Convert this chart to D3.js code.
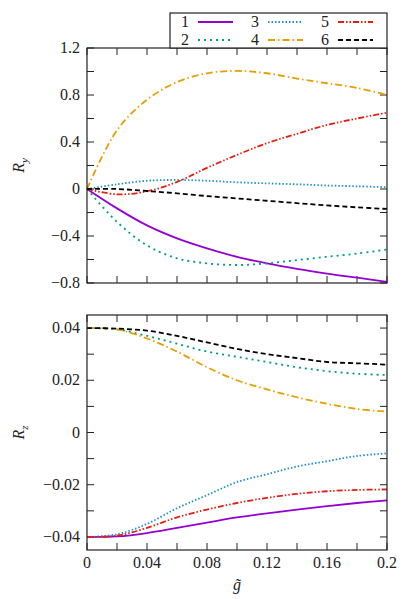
<!DOCTYPE html>
<html><head><meta charset="utf-8">
<script src="https://cdn.jsdelivr.net/npm/d3@7"></script>
<style>body{margin:0;background:#fff}svg text{font-family:'Liberation Serif','DejaVu Serif','Times New Roman',serif;font-size:16px;fill:#222}</style>
</head><body><svg id="c" width="407" height="599"></svg>
<script>
// data
const gx = [0,0.02,0.04,0.06,0.08,0.1,0.12,0.14,0.16,0.18,0.2];
const ry1 = [0,-0.165,-0.31,-0.42,-0.505,-0.577,-0.633,-0.68,-0.72,-0.755,-0.79];
const ry2 = [0,-0.28,-0.48,-0.59,-0.633,-0.647,-0.633,-0.605,-0.577,-0.55,-0.515];
const ry3 = [0,0.04,0.07,0.077,0.07,0.057,0.048,0.04,0.03,0.023,0.015];
const ry4 = [0,0.50,0.76,0.91,0.985,1.005,0.985,0.94,0.90,0.86,0.80];
const ry5 = [0,-0.045,-0.02,0.06,0.18,0.29,0.39,0.47,0.545,0.60,0.65];
const ry6 = [0,0,-0.017,-0.037,-0.06,-0.08,-0.1,-0.12,-0.14,-0.156,-0.17];
const rz1 = [-0.04,-0.0398,-0.0385,-0.0365,-0.0345,-0.0325,-0.031,-0.0295,-0.0282,-0.027,-0.026];
const rz2 = [0.04,0.0395,0.037,0.034,0.031,0.029,0.027,0.025,0.0235,0.0225,0.022];
const rz3 = [-0.04,-0.039,-0.035,-0.029,-0.024,-0.019,-0.016,-0.013,-0.011,-0.009,-0.008];
const rz4 = [0.04,0.0395,0.036,0.031,0.025,0.02,0.0165,0.0135,0.011,0.009,0.008];
const rz5 = [-0.04,-0.0395,-0.0365,-0.0325,-0.0295,-0.027,-0.025,-0.0235,-0.0225,-0.022,-0.0218];
const rz6 = [0.04,0.0398,0.039,0.037,0.0345,0.032,0.030,0.0285,0.027,0.0265,0.026];
const names = ["1","2","3","4","5","6"];
const xTickLabels = ["0","0.04","0.08","0.12","0.16","0.2"];
const ryTickLabels = ["−0.8","−0.4","0","0.4","0.8","1.2"];
const rzTickLabels = ["−0.04","−0.02","0","0.02","0.04"];

const colorsLine = ["#9400d3","#009e73","#1f8fd6","#e69f00","#e51e10","#000000"];
const dashes = [null,"2,4","1.5,2","7,3,1.5,3","6,2,1.5,2,1.5,2","5,3"];

const svg = d3.select("#c");
const L = 87, R = 387;
const x = d3.scaleLinear().domain([0,0.2]).range([L,R]);

function panel(top, bot, domain, series, minorStep, majorVals, majorLabels, title){
  const y = d3.scaleLinear().domain(domain).range([bot,top]);
  const g = svg.append("g");
  const line = d3.line().x((d,i)=>x(gx[i])).y(d=>y(d)).curve(d3.curveCatmullRom);
  // ticks, inward on all four sides
  const xt = d3.range(0,0.2001,0.02);
  const yt = d3.range(Math.ceil(domain[0]/minorStep-1e-6)*minorStep, domain[1]+1e-9, minorStep);
  xt.forEach(v=>{
    g.append("line").attr("x1",x(v)).attr("x2",x(v)).attr("y1",bot).attr("y2",bot-7).attr("stroke","#222");
    g.append("line").attr("x1",x(v)).attr("x2",x(v)).attr("y1",top).attr("y2",top+7).attr("stroke","#222");
  });
  yt.forEach(v=>{
    g.append("line").attr("x1",L).attr("x2",L+7).attr("y1",y(v)).attr("y2",y(v)).attr("stroke","#222");
    g.append("line").attr("x1",R).attr("x2",R-7).attr("y1",y(v)).attr("y2",y(v)).attr("stroke","#222");
  });
  majorVals.forEach((v,i)=>g.append("text").attr("x",L-7).attr("y",y(v)+5).attr("text-anchor","end").text(majorLabels[i]));
  series.forEach((s,i)=>g.append("path").attr("d",line(s)).attr("fill","none")
    .attr("stroke",colorsLine[i]).attr("stroke-width",1.8).attr("stroke-dasharray",dashes[i]));
  g.append("rect").attr("x",L).attr("y",top).attr("width",R-L).attr("height",bot-top)
    .attr("fill","none").attr("stroke","#222").attr("stroke-width",1.2);
  const t = g.append("text").attr("transform",`translate(24,${(top+bot)/2}) rotate(-90)`).attr("text-anchor","middle").style("font-style","italic");
  t.append("tspan").text("R");
  t.append("tspan").style("font-size","11px").attr("dy",4).text(title);
  return y;
}

panel(48,283,[-0.8,1.2],[ry1,ry2,ry3,ry4,ry5,ry6],0.2,[-0.8,-0.4,0,0.4,0.8,1.2],ryTickLabels,"y");
panel(315,550,[-0.045,0.045],[rz1,rz2,rz3,rz4,rz5,rz6],0.01,[-0.04,-0.02,0,0.02,0.04],rzTickLabels,"z");

[0,0.04,0.08,0.12,0.16,0.2].forEach((v,i)=>svg.append("text").attr("x",x(v)).attr("y",568).attr("text-anchor","middle").text(xTickLabels[i]));
svg.append("text").attr("x",237).attr("y",590).attr("text-anchor","middle").style("font-style","italic").text("g̃");

// legend
const lg = svg.append("g");
lg.append("rect").attr("x",170).attr("y",13).attr("width",217).attr("height",35).attr("fill","#fff").attr("stroke","#222").attr("stroke-width",1.2);
names.forEach((n,i)=>{
  const col = Math.floor(i/2), row = i%2;
  const bx = 185 + col*70, by = 22 + row*18;
  lg.append("text").attr("x",bx).attr("y",by+5).attr("text-anchor","middle").text(n);
  lg.append("line").attr("x1",bx+13).attr("x2",bx+48).attr("y1",by).attr("y2",by)
    .attr("stroke",colorsLine[i]).attr("stroke-width",1.8).attr("stroke-dasharray",dashes[i]);
});
</script></body></html>
